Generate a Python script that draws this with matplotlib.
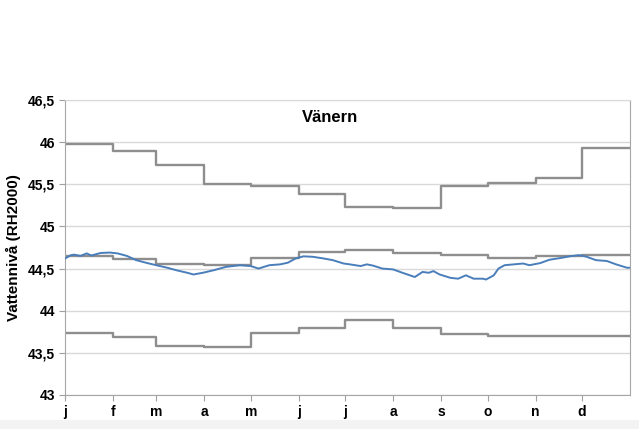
import matplotlib
matplotlib.use("Agg")
import matplotlib.pyplot as plt
from matplotlib.patches import Rectangle
import numpy as np

plt.rcParams["font.family"] = ["Liberation Sans", "DejaVu Sans"]

# Month starts (day of year) and labels
month_start = [0, 31, 59, 90, 120, 151, 181, 212, 243, 273, 304, 334, 365]
month_labels = ["j", "f", "m", "a", "m", "j", "j", "a", "s", "o", "n", "d"]

# Monthly step levels (m, RH2000)
upper = [45.98, 45.90, 45.73, 45.50, 45.48, 45.38, 45.23, 45.22, 45.48, 45.52, 45.58, 45.93]
middle = [44.65, 44.61, 44.55, 44.54, 44.63, 44.70, 44.72, 44.69, 44.66, 44.62, 44.645, 44.66]
lower = [43.73, 43.69, 43.58, 43.565, 43.73, 43.79, 43.89, 43.80, 43.725, 43.70, 43.70, 43.70]

# Water level
level_day = [0, 4, 6, 10, 14, 17, 23, 29, 34, 40, 46, 53, 59, 66, 72, 79, 83, 89,
             96, 104, 113, 120, 125, 132, 139, 144, 149, 154, 160, 167, 173, 180,
             184, 191, 195, 199, 205, 212, 218, 226, 231, 235, 238, 242, 249, 254,
             259, 264, 270, 272, 277, 280, 284, 290, 296, 300, 307, 313, 320, 326,
             332, 337, 343, 350, 356, 363, 365]
level = [44.62, 44.66, 44.665, 44.65, 44.68, 44.655, 44.685, 44.69, 44.68, 44.65,
         44.60, 44.566, 44.54, 44.51, 44.48, 44.45, 44.43, 44.45,
         44.48, 44.52, 44.54, 44.53, 44.50, 44.54, 44.55, 44.57, 44.62, 44.645,
         44.64, 44.62, 44.60, 44.56, 44.55, 44.53, 44.55, 44.535, 44.50, 44.49,
         44.45, 44.40, 44.46, 44.45, 44.47, 44.43, 44.39, 44.38, 44.42, 44.38,
         44.38, 44.37, 44.42, 44.50, 44.54, 44.55, 44.56, 44.54, 44.565, 44.605,
         44.625, 44.645, 44.66, 44.64, 44.60, 44.59, 44.55, 44.51, 44.51]

fig = plt.figure(figsize=(6.39, 4.29), dpi=100)
fig.patches.append(Rectangle((0, 0), 1, 9 / 429, transform=fig.transFigure,
                             facecolor="#f3f3f3", edgecolor="none", zorder=0))
ax = fig.add_axes([65 / 639, 34 / 429, 565 / 639, 295 / 429])

gray = "#8e8e8e"
for s in [upper, middle, lower]:
    ax.step(month_start, s + [s[-1]], where="post", color=gray, lw=1.7, zorder=2)
ax.plot(level_day, level, color="#4a7ebb", lw=1.4, zorder=3)

ax.set_xlim(0, 365)
ax.set_ylim(43, 46.5)
ax.set_xticks(month_start[:-1])
ax.set_xticklabels(month_labels)
yt = np.arange(43, 46.51, 0.5)
ax.set_yticks(yt)
ax.set_yticklabels([("%g" % v).replace(".", ",") for v in yt])
ax.yaxis.grid(True, color="#d9d9d9", lw=1)
ax.set_axisbelow(True)

for lab in ax.get_xticklabels() + ax.get_yticklabels():
    lab.set_fontweight("bold")
    lab.set_fontsize(10)
ax.tick_params(axis="both", direction="out", length=4, color="#a0a0a0", pad=3)
ax.tick_params(axis="x", pad=3)

for side in ["left", "bottom", "right"]:
    ax.spines[side].set_color("#a6a6a6")
ax.spines["top"].set_color("#d9d9d9")

ax.set_ylabel("Vattennivå (RH2000)", fontsize=11, fontweight="bold", labelpad=5)
ax.text(0.469, 0.94, "Vänern", transform=ax.transAxes, ha="center", va="center",
        fontsize=12, fontweight="bold")

fig.savefig("out.png", dpi=100)
